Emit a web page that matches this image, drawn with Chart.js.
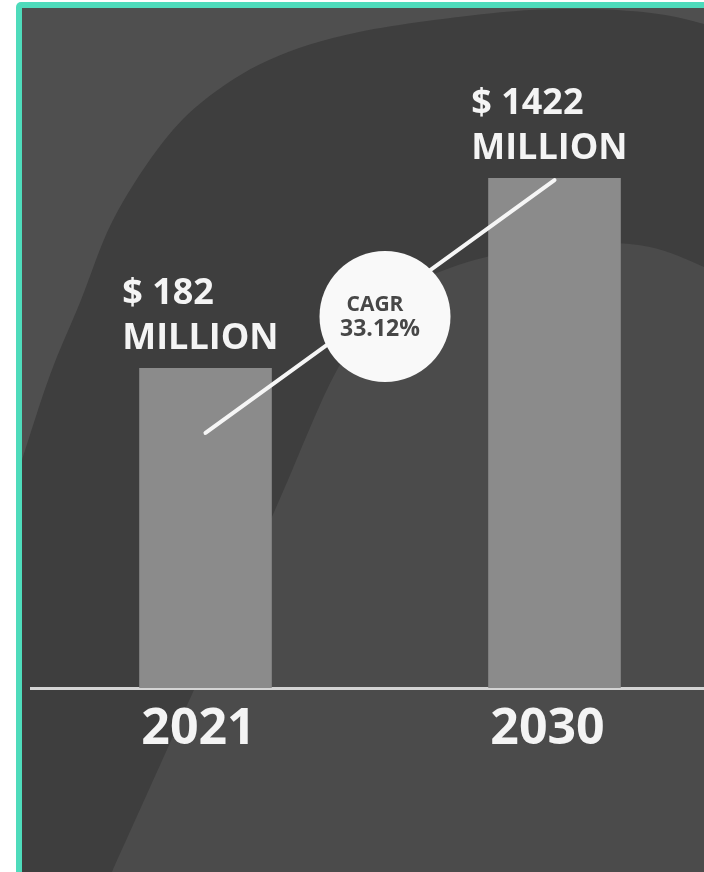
<!DOCTYPE html>
<html>
<head>
<meta charset="utf-8">
<title>Market Size 2021–2030</title>
<script src="https://cdn.jsdelivr.net/npm/chart.js@4.4.0/dist/chart.umd.min.js"></script>
<style>
  html, body { margin: 0; padding: 0; background: #ffffff; overflow: hidden; }
  #wrap { position: relative; width: 704px; height: 872px; overflow: hidden; }
  #c { position: absolute; left: 0; top: 0; }
</style>
</head>
<body>
<div id="wrap"><canvas id="c" width="760" height="872"></canvas></div>
<script>
// Market size, USD million
const years = ['2021', '2030'];
const marketSize = [182, 1422];
const currencyPrefix = '$';
const unitText = 'MILLION';
const cagrTitle = 'CAGR';
const cagrText = '33.12%';

// Hidden log scale bounds
const Y_MIN = 5.7;
const Y_MAX = 5100;

const FONT = "'Open Sans', 'Noto Sans', sans-serif";

// Smooth curve through a list of points (Catmull-Rom -> Bezier)
function smoothPath(ctx, pts, moveFirst) {
  if (moveFirst) ctx.moveTo(pts[0][0], pts[0][1]); else ctx.lineTo(pts[0][0], pts[0][1]);
  for (let i = 0; i < pts.length - 1; i++) {
    const p0 = pts[Math.max(0, i - 1)], p1 = pts[i], p2 = pts[i + 1], p3 = pts[Math.min(pts.length - 1, i + 2)];
    const c1x = p1[0] + (p2[0] - p0[0]) / 6, c1y = p1[1] + (p2[1] - p0[1]) / 6;
    const c2x = p2[0] - (p3[0] - p1[0]) / 6, c2y = p2[1] - (p3[1] - p1[1]) / 6;
    ctx.bezierCurveTo(c1x, c1y, c2x, c2y, p2[0], p2[1]);
  }
}

// Framed panel with two sweeping arcs behind the bars
const backdrop = {
  id: 'backdrop',
  beforeDraw(chart) {
    const ctx = chart.ctx, W = chart.width, H = chart.height;
    ctx.save();
    ctx.fillStyle = '#ffffff';
    ctx.fillRect(0, 0, W, H);
    ctx.fillStyle = '#4edbbb';
    ctx.beginPath();
    ctx.roundRect(16, 2, W, H, [5, 0, 0, 0]);
    ctx.fill();
    ctx.beginPath();
    ctx.rect(22, 8, W, H);
    ctx.clip();
    ctx.fillStyle = '#4f4f4f';
    ctx.fillRect(22, 8, W, H);

    const outerArc = [[10, 495], [22, 460], [50, 375], [81, 300], [112, 222], [157, 150], [202, 102], [269, 60],
      [359, 32], [494, 13], [580, 9], [651, 13], [704, 24], [760, 42]];
    ctx.beginPath();
    smoothPath(ctx, outerArc, true);
    ctx.lineTo(W, H); ctx.lineTo(0, H); ctx.closePath();
    ctx.fillStyle = '#3e3e3e';
    ctx.fill();

    const innerArc = [[95, 910], [112, 872], [193, 692], [275, 510], [337, 370], [390, 300], [450, 268],
      [520, 250], [590, 243], [650, 247], [704, 267], [760, 295]];
    ctx.beginPath();
    smoothPath(ctx, innerArc, true);
    ctx.lineTo(W, H + 40); ctx.lineTo(95, H + 40); ctx.closePath();
    ctx.fillStyle = '#4b4b4b';
    ctx.fill();
    ctx.restore();
  }
};

// Growth line, CAGR badge and value captions
const annotations = {
  id: 'annotations',
  afterDatasetsDraw(chart) {
    const ctx = chart.ctx;
    const bars = chart.getDatasetMeta(0).data;
    const a = bars[0], b = bars[1];

    const x0 = a.x, y0 = a.y + 65, x1 = b.x, y1 = b.y + 2;
    ctx.save();
    ctx.strokeStyle = '#f6f6f6';
    ctx.lineWidth = 4;
    ctx.lineCap = 'round';
    ctx.beginPath();
    ctx.moveTo(x0, y0);
    ctx.lineTo(x1, y1);
    ctx.stroke();

    const cx = (x0 + x1) / 2 + 5, cy = (y0 + y1) / 2 + 10;
    ctx.fillStyle = '#f9f9f9';
    ctx.beginPath();
    ctx.arc(cx, cy, 65.5, 0, Math.PI * 2);
    ctx.fill();

    ctx.fillStyle = '#474747';
    ctx.textAlign = 'center';
    ctx.textBaseline = 'alphabetic';
    ctx.font = `bold 21px ${FONT}`;
    ctx.fillText(cagrTitle, cx - 10, cy - 5);
    ctx.font = `bold 23px ${FONT}`;
    ctx.fillText(cagrText, cx - 5, cy + 20);

    ctx.fillStyle = '#f4f4f4';
    ctx.textAlign = 'left';
    ctx.font = `bold 36px ${FONT}`;
    bars.forEach((bar, i) => {
      const left = bar.x - bar.width / 2 - 17;
      ctx.fillText(`${currencyPrefix} ${marketSize[i]}`, left, bar.y - 64);
      ctx.fillText(unitText, left, bar.y - 19);
    });
    ctx.restore();
  }
};

new Chart(document.getElementById('c'), {
  type: 'bar',
  data: {
    labels: years,
    datasets: [{
      data: marketSize,
      backgroundColor: '#8b8b8b',
      borderWidth: 0,
      barPercentage: 0.38,
      categoryPercentage: 1
    }]
  },
  options: {
    responsive: false,
    animation: false,
    devicePixelRatio: 1,
    layout: { padding: { left: 31, right: 31, top: 60, bottom: 108 } },
    plugins: { legend: { display: false }, tooltip: { enabled: false } },
    scales: {
      y: { type: 'logarithmic', min: Y_MIN, max: Y_MAX, display: false },
      x: {
        z: 1,
        grid: { display: false },
        border: { display: true, color: '#d4d4d4', width: 3 },
        ticks: {
          color: '#f4f4f4',
          padding: 4,
          labelOffset: -7,
          font: { family: FONT, size: 50, weight: 'bold' }
        }
      }
    }
  },
  plugins: [backdrop, annotations]
});
</script>
</body>
</html>
